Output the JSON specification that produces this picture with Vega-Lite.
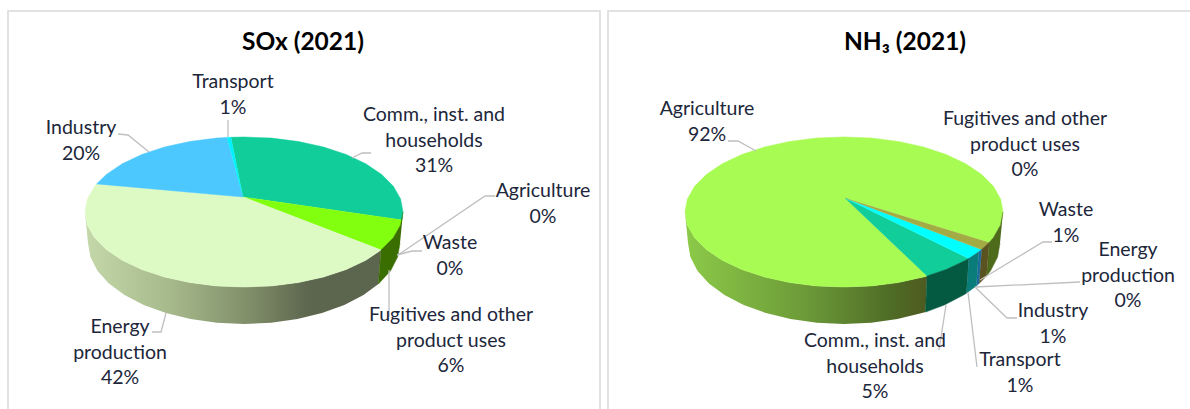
{
  "$schema": "https://vega.github.io/schema/vega-lite/v6.json",
  "background": "white",
  "padding": {"left": 7, "top": 10, "right": 0, "bottom": 0},
  "spacing": 6,
  "resolve": {"scale": {"fill": "independent", "stroke": "independent"}},
  "config": {"axis": {"grid": false}, "text": {"font": "Lato"}},
  "datasets": {
    "soxShapes": [
      {"part":"Comm top","seq":0,"x":-1,"y":15},{"part":"Comm top","seq":1,"x":-13,"y":74.7},{"part":"Comm top","seq":2,"x":0,"y":75},{"part":"Comm top","seq":3,"x":27.6,"y":73.9},{"part":"Comm top","seq":4,"x":54.4,"y":70.5},{"part":"Comm top","seq":5,"x":79.5,"y":65},{"part":"Comm top","seq":6,"x":102.2,"y":57.5},{"part":"Comm top","seq":7,"x":121.8,"y":48.2},{"part":"Comm top","seq":8,"x":137.7,"y":37.5},{"part":"Comm top","seq":9,"x":149.4,"y":25.7},{"part":"Comm top","seq":10,"x":156.6,"y":13},{"part":"Comm top","seq":11,"x":159,"y":0},{"part":"Comm top","seq":12,"x":158,"y":-8},
      {"part":"Fugitives top","seq":0,"x":-1,"y":15},{"part":"Fugitives top","seq":1,"x":158,"y":-8},{"part":"Fugitives top","seq":2,"x":156.6,"y":-13},{"part":"Fugitives top","seq":3,"x":149.4,"y":-25.7},{"part":"Fugitives top","seq":4,"x":137,"y":-38.1},
      {"part":"Energy top","seq":0,"x":-1,"y":15},{"part":"Energy top","seq":1,"x":137,"y":-38.1},{"part":"Energy top","seq":2,"x":121.8,"y":-48.2},{"part":"Energy top","seq":3,"x":102.2,"y":-57.5},{"part":"Energy top","seq":4,"x":79.5,"y":-65},{"part":"Energy top","seq":5,"x":54.4,"y":-70.5},{"part":"Energy top","seq":6,"x":27.6,"y":-73.9},{"part":"Energy top","seq":7,"x":0,"y":-75},{"part":"Energy top","seq":8,"x":-27.6,"y":-73.9},{"part":"Energy top","seq":9,"x":-54.4,"y":-70.5},{"part":"Energy top","seq":10,"x":-79.5,"y":-65},{"part":"Energy top","seq":11,"x":-102.2,"y":-57.5},{"part":"Energy top","seq":12,"x":-121.8,"y":-48.2},{"part":"Energy top","seq":13,"x":-137.7,"y":-37.5},{"part":"Energy top","seq":14,"x":-149.4,"y":-25.7},{"part":"Energy top","seq":15,"x":-156.6,"y":-13},{"part":"Energy top","seq":16,"x":-159,"y":0},{"part":"Energy top","seq":17,"x":-156.6,"y":13},{"part":"Energy top","seq":18,"x":-149.4,"y":25.7},{"part":"Energy top","seq":19,"x":-147.4,"y":28.1},
      {"part":"Industry top","seq":0,"x":-1,"y":15},{"part":"Industry top","seq":1,"x":-147.4,"y":28.1},{"part":"Industry top","seq":2,"x":-137.7,"y":37.5},{"part":"Industry top","seq":3,"x":-121.8,"y":48.2},{"part":"Industry top","seq":4,"x":-102.2,"y":57.5},{"part":"Industry top","seq":5,"x":-79.5,"y":65},{"part":"Industry top","seq":6,"x":-54.4,"y":70.5},{"part":"Industry top","seq":7,"x":-27.6,"y":73.9},{"part":"Industry top","seq":8,"x":-16.9,"y":74.6},
      {"part":"Transport top","seq":0,"x":-1,"y":15},{"part":"Transport top","seq":1,"x":-16.9,"y":74.6},{"part":"Transport top","seq":2,"x":-13,"y":74.7},
      {"part":"Fugitives wall","seq":0,"x":159,"y":0},{"part":"Fugitives wall","seq":1,"x":156.6,"y":-13},{"part":"Fugitives wall","seq":2,"x":149.4,"y":-25.7},{"part":"Fugitives wall","seq":3,"x":137,"y":-38.1},{"part":"Fugitives wall","seq":4,"x":134.4,"y":-72.1},{"part":"Fugitives wall","seq":5,"x":146.6,"y":-58.7},{"part":"Fugitives wall","seq":6,"x":153.6,"y":-45.1},{"part":"Fugitives wall","seq":7,"x":156,"y":-31},
      {"part":"Energy wall","seq":0,"x":137,"y":-38.1},{"part":"Energy wall","seq":1,"x":121.8,"y":-48.2},{"part":"Energy wall","seq":2,"x":102.2,"y":-57.5},{"part":"Energy wall","seq":3,"x":79.5,"y":-65},{"part":"Energy wall","seq":4,"x":54.4,"y":-70.5},{"part":"Energy wall","seq":5,"x":27.6,"y":-73.9},{"part":"Energy wall","seq":6,"x":0,"y":-75},{"part":"Energy wall","seq":7,"x":-27.6,"y":-73.9},{"part":"Energy wall","seq":8,"x":-54.4,"y":-70.5},{"part":"Energy wall","seq":9,"x":-79.5,"y":-65},{"part":"Energy wall","seq":10,"x":-102.2,"y":-57.5},{"part":"Energy wall","seq":11,"x":-121.8,"y":-48.2},{"part":"Energy wall","seq":12,"x":-137.7,"y":-37.5},{"part":"Energy wall","seq":13,"x":-149.4,"y":-25.7},{"part":"Energy wall","seq":14,"x":-156.6,"y":-13},{"part":"Energy wall","seq":15,"x":-159,"y":0},{"part":"Energy wall","seq":16,"x":-156,"y":-31},{"part":"Energy wall","seq":17,"x":-153.6,"y":-45.1},{"part":"Energy wall","seq":18,"x":-146.6,"y":-58.7},{"part":"Energy wall","seq":19,"x":-135.1,"y":-71.5},{"part":"Energy wall","seq":20,"x":-119.5,"y":-83.1},{"part":"Energy wall","seq":21,"x":-100.3,"y":-93},{"part":"Energy wall","seq":22,"x":-78,"y":-101.1},{"part":"Energy wall","seq":23,"x":-53.4,"y":-107.1},{"part":"Energy wall","seq":24,"x":-27.1,"y":-110.8},{"part":"Energy wall","seq":25,"x":0,"y":-112},{"part":"Energy wall","seq":26,"x":27.1,"y":-110.8},{"part":"Energy wall","seq":27,"x":53.4,"y":-107.1},{"part":"Energy wall","seq":28,"x":78,"y":-101.1},{"part":"Energy wall","seq":29,"x":100.3,"y":-93},{"part":"Energy wall","seq":30,"x":119.5,"y":-83.1},{"part":"Energy wall","seq":31,"x":134.4,"y":-72.1}
    ],
    "soxLeaders": [
      {"name":"Transport","seq":0,"x":-16,"y":92},{"name":"Transport","seq":1,"x":-16,"y":75},
      {"name":"Industry","seq":0,"x":-126,"y":78},{"name":"Industry","seq":1,"x":-116,"y":77},{"name":"Industry","seq":2,"x":-95,"y":60},
      {"name":"Comm","seq":0,"x":127,"y":59},{"name":"Comm","seq":1,"x":118,"y":59},{"name":"Comm","seq":2,"x":108,"y":54},
      {"name":"Agriculture","seq":0,"x":251,"y":16},{"name":"Agriculture","seq":1,"x":241,"y":16},{"name":"Agriculture","seq":2,"x":154,"y":-43},
      {"name":"Waste","seq":0,"x":178,"y":-39},{"name":"Waste","seq":1,"x":168,"y":-39},{"name":"Waste","seq":2,"x":153,"y":-43},
      {"name":"Fugitives","seq":0,"x":145,"y":-58},{"name":"Fugitives","seq":1,"x":145,"y":-105},
      {"name":"Energy","seq":0,"x":-92,"y":-120},{"name":"Energy","seq":1,"x":-83,"y":-120},{"name":"Energy","seq":2,"x":-78,"y":-101}
    ],
    "soxLabels": [
      {"label":"Transport\n1%","x":-11,"y":124},
      {"label":"Industry\n20%","x":-163,"y":78},
      {"label":"Comm., inst. and\nhouseholds\n31%","x":190,"y":91},
      {"label":"Agriculture\n0%","x":299,"y":15},
      {"label":"Waste\n0%","x":206,"y":-37},
      {"label":"Fugitives and other\nproduct uses\n6%","x":207,"y":-109},
      {"label":"Energy\nproduction\n42%","x":-124,"y":-121}
    ],
    "soxTitle": [{"label":"SOx (2021)","x":59,"y":162}],
    "nh3Shapes": [
      {"part":"Agriculture top","seq":0,"x":1,"y":14},{"part":"Agriculture top","seq":1,"x":145.2,"y":-30.5},{"part":"Agriculture top","seq":2,"x":149.4,"y":-25.7},{"part":"Agriculture top","seq":3,"x":156.6,"y":-13},{"part":"Agriculture top","seq":4,"x":159,"y":0},{"part":"Agriculture top","seq":5,"x":156.6,"y":13},{"part":"Agriculture top","seq":6,"x":149.4,"y":25.7},{"part":"Agriculture top","seq":7,"x":137.7,"y":37.5},{"part":"Agriculture top","seq":8,"x":121.8,"y":48.2},{"part":"Agriculture top","seq":9,"x":102.2,"y":57.5},{"part":"Agriculture top","seq":10,"x":79.5,"y":65},{"part":"Agriculture top","seq":11,"x":54.4,"y":70.5},{"part":"Agriculture top","seq":12,"x":27.6,"y":73.9},{"part":"Agriculture top","seq":13,"x":0,"y":75},{"part":"Agriculture top","seq":14,"x":-27.6,"y":73.9},{"part":"Agriculture top","seq":15,"x":-54.4,"y":70.5},{"part":"Agriculture top","seq":16,"x":-79.5,"y":65},{"part":"Agriculture top","seq":17,"x":-102.2,"y":57.5},{"part":"Agriculture top","seq":18,"x":-121.8,"y":48.2},{"part":"Agriculture top","seq":19,"x":-137.7,"y":37.5},{"part":"Agriculture top","seq":20,"x":-149.4,"y":25.7},{"part":"Agriculture top","seq":21,"x":-156.6,"y":13},{"part":"Agriculture top","seq":22,"x":-159,"y":0},{"part":"Agriculture top","seq":23,"x":-156.6,"y":-13},{"part":"Agriculture top","seq":24,"x":-149.4,"y":-25.7},{"part":"Agriculture top","seq":25,"x":-137.7,"y":-37.5},{"part":"Agriculture top","seq":26,"x":-121.8,"y":-48.2},{"part":"Agriculture top","seq":27,"x":-102.2,"y":-57.5},{"part":"Agriculture top","seq":28,"x":-79.5,"y":-65},{"part":"Agriculture top","seq":29,"x":-54.4,"y":-70.5},{"part":"Agriculture top","seq":30,"x":-27.6,"y":-73.9},{"part":"Agriculture top","seq":31,"x":0,"y":-75},{"part":"Agriculture top","seq":32,"x":27.6,"y":-73.9},{"part":"Agriculture top","seq":33,"x":54.4,"y":-70.5},{"part":"Agriculture top","seq":34,"x":79.5,"y":-65},{"part":"Agriculture top","seq":35,"x":83.1,"y":-63.9},
      {"part":"Comm top","seq":0,"x":1,"y":14},{"part":"Comm top","seq":1,"x":83.1,"y":-63.9},{"part":"Comm top","seq":2,"x":102.2,"y":-57.5},{"part":"Comm top","seq":3,"x":121.8,"y":-48.2},{"part":"Comm top","seq":4,"x":124.8,"y":-46.5},
      {"part":"Transport top","seq":0,"x":1,"y":14},{"part":"Transport top","seq":1,"x":124.8,"y":-46.5},{"part":"Transport top","seq":2,"x":137.7,"y":-37.5},
      {"part":"Fugitives top","seq":0,"x":1,"y":14},{"part":"Fugitives top","seq":1,"x":137.7,"y":-37.5},{"part":"Fugitives top","seq":2,"x":145.2,"y":-30.5},
      {"part":"Agriculture side","seq":0,"x":159,"y":0},{"part":"Agriculture side","seq":1,"x":156.6,"y":-13},{"part":"Agriculture side","seq":2,"x":149.4,"y":-25.7},{"part":"Agriculture side","seq":3,"x":145.2,"y":-30.5},{"part":"Agriculture side","seq":4,"x":142.5,"y":-63.9},{"part":"Agriculture side","seq":5,"x":146.6,"y":-58.7},{"part":"Agriculture side","seq":6,"x":153.6,"y":-45.1},{"part":"Agriculture side","seq":7,"x":156,"y":-31},
      {"part":"Fugitives wall","seq":0,"x":145.2,"y":-30.5},{"part":"Fugitives wall","seq":1,"x":137.7,"y":-37.5},{"part":"Fugitives wall","seq":2,"x":135.1,"y":-71.5},{"part":"Fugitives wall","seq":3,"x":142.5,"y":-63.9},
      {"part":"Industry wall","seq":0,"x":137.7,"y":-37.5},{"part":"Industry wall","seq":1,"x":134.8,"y":-39.8},{"part":"Industry wall","seq":2,"x":132.3,"y":-73.9},{"part":"Industry wall","seq":3,"x":135.1,"y":-71.5},
      {"part":"Transport wall","seq":0,"x":134.8,"y":-39.8},{"part":"Transport wall","seq":1,"x":124.8,"y":-46.5},{"part":"Transport wall","seq":2,"x":122.4,"y":-81.2},{"part":"Transport wall","seq":3,"x":132.3,"y":-73.9},
      {"part":"Comm wall","seq":0,"x":124.8,"y":-46.5},{"part":"Comm wall","seq":1,"x":121.8,"y":-48.2},{"part":"Comm wall","seq":2,"x":102.2,"y":-57.5},{"part":"Comm wall","seq":3,"x":83.1,"y":-63.9},{"part":"Comm wall","seq":4,"x":81.5,"y":-100.1},{"part":"Comm wall","seq":5,"x":100.3,"y":-93},{"part":"Comm wall","seq":6,"x":119.5,"y":-83.1},{"part":"Comm wall","seq":7,"x":122.4,"y":-81.2},
      {"part":"Agriculture wall","seq":0,"x":83.1,"y":-63.9},{"part":"Agriculture wall","seq":1,"x":79.5,"y":-65},{"part":"Agriculture wall","seq":2,"x":54.4,"y":-70.5},{"part":"Agriculture wall","seq":3,"x":27.6,"y":-73.9},{"part":"Agriculture wall","seq":4,"x":0,"y":-75},{"part":"Agriculture wall","seq":5,"x":-27.6,"y":-73.9},{"part":"Agriculture wall","seq":6,"x":-54.4,"y":-70.5},{"part":"Agriculture wall","seq":7,"x":-79.5,"y":-65},{"part":"Agriculture wall","seq":8,"x":-102.2,"y":-57.5},{"part":"Agriculture wall","seq":9,"x":-121.8,"y":-48.2},{"part":"Agriculture wall","seq":10,"x":-137.7,"y":-37.5},{"part":"Agriculture wall","seq":11,"x":-149.4,"y":-25.7},{"part":"Agriculture wall","seq":12,"x":-156.6,"y":-13},{"part":"Agriculture wall","seq":13,"x":-159,"y":0},{"part":"Agriculture wall","seq":14,"x":-156,"y":-31},{"part":"Agriculture wall","seq":15,"x":-153.6,"y":-45.1},{"part":"Agriculture wall","seq":16,"x":-146.6,"y":-58.7},{"part":"Agriculture wall","seq":17,"x":-135.1,"y":-71.5},{"part":"Agriculture wall","seq":18,"x":-119.5,"y":-83.1},{"part":"Agriculture wall","seq":19,"x":-100.3,"y":-93},{"part":"Agriculture wall","seq":20,"x":-78,"y":-101.1},{"part":"Agriculture wall","seq":21,"x":-53.4,"y":-107.1},{"part":"Agriculture wall","seq":22,"x":-27.1,"y":-110.8},{"part":"Agriculture wall","seq":23,"x":0,"y":-112},{"part":"Agriculture wall","seq":24,"x":27.1,"y":-110.8},{"part":"Agriculture wall","seq":25,"x":53.4,"y":-107.1},{"part":"Agriculture wall","seq":26,"x":78,"y":-101.1},{"part":"Agriculture wall","seq":27,"x":81.5,"y":-100.1}
    ],
    "nh3Leaders": [
      {"name":"Agriculture","seq":0,"x":-116,"y":71},{"name":"Agriculture","seq":1,"x":-106,"y":71},{"name":"Agriculture","seq":2,"x":-88,"y":61},
      {"name":"Waste","seq":0,"x":208,"y":-30},{"name":"Waste","seq":1,"x":199,"y":-30},{"name":"Waste","seq":2,"x":136,"y":-68},
      {"name":"Energy","seq":0,"x":236,"y":-70},{"name":"Energy","seq":1,"x":131,"y":-75},
      {"name":"Industry","seq":0,"x":173,"y":-106},{"name":"Industry","seq":1,"x":163,"y":-106},{"name":"Industry","seq":2,"x":131,"y":-75},
      {"name":"Transport","seq":0,"x":133,"y":-155},{"name":"Transport","seq":1,"x":124,"y":-80},
      {"name":"Comm","seq":0,"x":95,"y":-138},{"name":"Comm","seq":1,"x":102,"y":-93}
    ],
    "nh3Labels": [
      {"label":"Agriculture\n92%","x":-137,"y":97},
      {"label":"Fugitives and other\nproduct uses\n0%","x":181,"y":87},
      {"label":"Waste\n1%","x":222,"y":-4},
      {"label":"Energy\nproduction\n0%","x":284,"y":-44},
      {"label":"Industry\n1%","x":209,"y":-105},
      {"label":"Transport\n1%","x":176,"y":-154},
      {"label":"Comm., inst. and\nhouseholds\n5%","x":31,"y":-135}
    ],
    "nh3Title": [{"label":"NH₃ (2021)","x":61,"y":162}]
  },
  "hconcat": [
    {
      "width": 592,
      "height": 399,
      "view": {"stroke": "#d9d9d9", "strokeWidth": 1.5, "fill": "white"},
      "encoding": {
        "x": {"field": "x", "type": "quantitative", "axis": null, "scale": {"domain": [-236, 356], "nice": false, "zero": false}},
        "y": {"field": "y", "type": "quantitative", "axis": null, "scale": {"domain": [-198, 201], "nice": false, "zero": false}}
      },
      "layer": [
        {
          "data": {"name": "soxShapes"},
          "transform": [{"filter": "datum.part === 'Energy wall'"}],
          "mark": {"type": "line", "strokeWidth": 0.5, "stroke": "#8a9a70", "strokeOpacity": 0, "fill": {"x1": 0, "x2": 1, "y1": 0, "y2": 0, "gradient": "linear", "stops": [{"offset": 0, "color": "#c4d8aa"}, {"offset": 0.29, "color": "#a6b98b"}, {"offset": 0.56, "color": "#7f8d68"}, {"offset": 0.76, "color": "#5c654d"}, {"offset": 1, "color": "#5c654d"}]}},
          "encoding": {"order": {"field": "seq", "type": "quantitative"}}
        },
        {
          "data": {"name": "soxShapes"},
          "transform": [{"filter": "datum.part !== 'Energy wall'"}],
          "mark": {"type": "line", "strokeWidth": 0.5},
          "encoding": {
            "order": {"field": "seq", "type": "quantitative"},
            "fill": {"field": "part", "type": "nominal", "legend": null, "scale": {"domain": ["Comm top", "Fugitives top", "Energy top", "Industry top", "Transport top", "Fugitives wall"], "range": ["#10cd9a", "#82ff0e", "#defac4", "#4dc8ff", "#00f0ff", "#3b6e00"]}},
            "stroke": {"field": "part", "type": "nominal", "legend": null, "scale": {"domain": ["Comm top", "Fugitives top", "Energy top", "Industry top", "Transport top", "Fugitives wall"], "range": ["#10cd9a", "#82ff0e", "#defac4", "#4dc8ff", "#00f0ff", "#3b6e00"]}}
          }
        },
        {
          "data": {"name": "soxLeaders"},
          "mark": {"type": "line", "color": "#bfbfbf", "strokeWidth": 1.3},
          "encoding": {"detail": {"field": "name"}, "order": {"field": "seq", "type": "quantitative"}}
        },
        {
          "data": {"name": "soxLabels"},
          "mark": {"type": "text", "font": "Lato", "fontSize": 19.5, "lineBreak": "\n", "lineHeight": 25.7, "align": "center", "baseline": "alphabetic", "color": "#20263a"},
          "encoding": {"text": {"field": "label"}}
        },
        {
          "data": {"name": "soxTitle"},
          "mark": {"type": "text", "font": "Lato", "fontSize": 24.5, "fontWeight": "bold", "align": "center", "baseline": "alphabetic", "color": "#000000"},
          "encoding": {"text": {"field": "label"}}
        }
      ]
    },
    {
      "width": 590,
      "height": 399,
      "view": {"stroke": "#d9d9d9", "strokeWidth": 1.5, "fill": "white"},
      "encoding": {
        "x": {"field": "x", "type": "quantitative", "axis": null, "scale": {"domain": [-236, 354], "nice": false, "zero": false}},
        "y": {"field": "y", "type": "quantitative", "axis": null, "scale": {"domain": [-198, 201], "nice": false, "zero": false}}
      },
      "layer": [
        {
          "data": {"name": "nh3Shapes"},
          "transform": [{"filter": "datum.part === 'Agriculture wall'"}],
          "mark": {"type": "line", "strokeWidth": 0.5, "stroke": "#6c9a38", "strokeOpacity": 0, "fill": {"x1": 0, "x2": 1, "y1": 0, "y2": 0, "gradient": "linear", "stops": [{"offset": 0, "color": "#8cca48"}, {"offset": 0.5, "color": "#6c9a38"}, {"offset": 0.85, "color": "#4f6c26"}, {"offset": 1, "color": "#4e5a20"}]}},
          "encoding": {"order": {"field": "seq", "type": "quantitative"}}
        },
        {
          "data": {"name": "nh3Shapes"},
          "transform": [{"filter": "datum.part !== 'Agriculture wall'"}],
          "mark": {"type": "line", "strokeWidth": 0.5},
          "encoding": {
            "order": {"field": "seq", "type": "quantitative"},
            "fill": {"field": "part", "type": "nominal", "legend": null, "scale": {"domain": ["Agriculture top", "Comm top", "Transport top", "Fugitives top", "Agriculture side", "Fugitives wall", "Industry wall", "Transport wall", "Comm wall"], "range": ["#a8fb52", "#10cd9a", "#00ffff", "#a3ab45", "#4e6b1c", "#5a5220", "#1a6d9a", "#0a7d7a", "#045a40"]}},
            "stroke": {"field": "part", "type": "nominal", "legend": null, "scale": {"domain": ["Agriculture top", "Comm top", "Transport top", "Fugitives top", "Agriculture side", "Fugitives wall", "Industry wall", "Transport wall", "Comm wall"], "range": ["#a8fb52", "#10cd9a", "#00ffff", "#a3ab45", "#4e6b1c", "#5a5220", "#1a6d9a", "#0a7d7a", "#045a40"]}}
          }
        },
        {
          "data": {"name": "nh3Leaders"},
          "mark": {"type": "line", "color": "#bfbfbf", "strokeWidth": 1.3},
          "encoding": {"detail": {"field": "name"}, "order": {"field": "seq", "type": "quantitative"}}
        },
        {
          "data": {"name": "nh3Labels"},
          "mark": {"type": "text", "font": "Lato", "fontSize": 19.5, "lineBreak": "\n", "lineHeight": 25.7, "align": "center", "baseline": "alphabetic", "color": "#20263a"},
          "encoding": {"text": {"field": "label"}}
        },
        {
          "data": {"name": "nh3Title"},
          "mark": {"type": "text", "font": "Lato", "fontSize": 24.5, "fontWeight": "bold", "align": "center", "baseline": "alphabetic", "color": "#000000"},
          "encoding": {"text": {"field": "label"}}
        }
      ]
    }
  ]
}
